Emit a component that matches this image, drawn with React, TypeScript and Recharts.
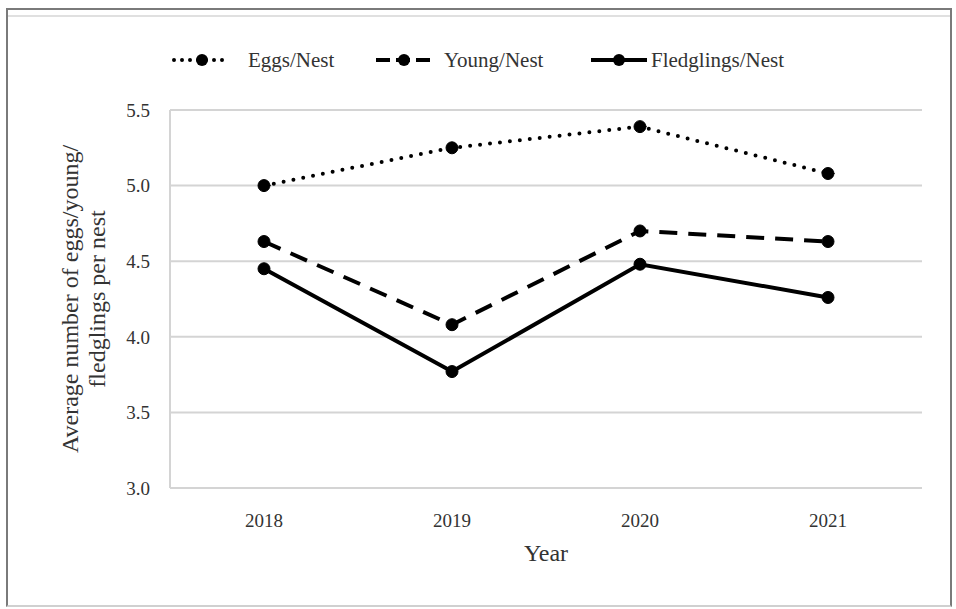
import React, {useEffect} from "react";
import {LineChart, Line, XAxis, YAxis, CartesianGrid} from "recharts";

const years = ["2018", "2019", "2020", "2021"];
const eggsPerNest = [5.0, 5.25, 5.39, 5.08];
const youngPerNest = [4.63, 4.08, 4.7, 4.63];
const fledglingsPerNest = [4.45, 3.77, 4.48, 4.26];
const yTicks = [3.0, 3.5, 4.0, 4.5, 5.0, 5.5];

const FONT = "'Liberation Serif', 'Times New Roman', serif";
const TEXT = "#333";

const data = years.map((y, i) => ({
    year: y,
    eggs: eggsPerNest[i],
    young: youngPerNest[i],
    fledglings: fledglingsPerNest[i],
}));

const series = [
    {key: "eggs", name: "Eggs/Nest", dash: "0 10", cap: "round" as const, iconDash: "0 8", left: 171, gap: 15},
    {key: "young", name: "Young/Nest", dash: "18 11", cap: "butt" as const, iconDash: "14 6", left: 373, gap: 9},
    {key: "fledglings", name: "Fledglings/Nest", dash: undefined, cap: "butt" as const, iconDash: undefined, left: 588, gap: 1},
];

const LegendIcon = ({dash, cap}: any) => (
    <svg width={62} height={16} style={{display: "block"}}>
        <line x1={3} y1={8} x2={59} y2={8} stroke="#000" strokeWidth={4}
              strokeDasharray={dash} strokeLinecap={cap}/>
        <circle cx={31} cy={8} r={6} fill="#000"/>
    </svg>
);

const CustomLegend = () => (
    <>
        {series.map((s) => (
            <div key={s.key} style={{
                position: "absolute", left: s.left, top: 47, height: 26, display: "flex", alignItems: "center",
                fontFamily: FONT, fontSize: 21, color: TEXT, whiteSpace: "nowrap"
            }}>
                <LegendIcon dash={s.iconDash} cap={s.cap}/>
                <span style={{marginLeft: s.gap}}>{s.name}</span>
            </div>
        ))}
    </>
);

const YLabel = () => (
    <text x={0} y={0} transform="translate(83,299) rotate(-90)" textAnchor="middle"
          fontFamily={FONT} fontSize={24} fill={TEXT}>
        <tspan x={0} dy={-5}>Average number of eggs/young/</tspan>
        <tspan x={0} dy={27}>fledglings per nest</tspan>
    </text>
);

const App = () => {
    useEffect(() => {
        document.body.style.margin = "0";
    }, []);
    return (
        <div style={{position: "relative", width: 956, height: 609, background: "#fff"}}>
            <div style={{
                position: "absolute", left: 6, top: 8, width: 942, height: 595,
                borderTop: "2px solid #7a7a7a", borderLeft: "2px solid #7a7a7a",
                borderRight: "2px solid #7a7a7a", borderBottom: "2px solid #d0d0d0"
            }}/>
            <div style={{position: "absolute", left: 8, top: 15, width: 942, height: 2, background: "#e0e0e0"}}/>
            <div style={{position: "absolute", left: 0, top: 0}}>
                <LineChart width={956} height={609} data={data}
                           margin={{top: 110, right: 34, bottom: 0, left: 0}}>
                    <CartesianGrid vertical={false} stroke="#d4d4d4" strokeWidth={2}/>
                    <XAxis dataKey="year" height={121} tickSize={0} tickMargin={26}
                           padding={{left: 94, right: 94}}
                           axisLine={{stroke: "#d4d4d4", strokeWidth: 2}}
                           tick={{fontFamily: FONT, fontSize: 19, fill: TEXT}}
                           label={{value: "Year", position: "insideTop", offset: 56, fontFamily: FONT, fontSize: 24, fill: TEXT}}/>
                    <YAxis width={170} domain={[3, 5.5]} ticks={yTicks} tickSize={0} tickMargin={20}
                           tickFormatter={(v: number) => v.toFixed(1)}
                           axisLine={{stroke: "#d4d4d4", strokeWidth: 2}}
                           tick={{fontFamily: FONT, fontSize: 19, fill: TEXT}}
                           label={{content: () => <YLabel/>}}/>
                    <YAxis yAxisId="right" orientation="right" width={0} domain={[3, 5.5]} tick={false}
                           axisLine={{stroke: "#d4d4d4", strokeWidth: 2}}/>
                    {series.map((s) => (
                        <Line key={s.key} type="linear" dataKey={s.key} name={s.name}
                              stroke="#000" strokeWidth={4} strokeDasharray={s.dash} strokeLinecap={s.cap}
                              dot={{r: 6, fill: "#000", stroke: "#000", strokeWidth: 1, strokeDasharray: ""}}
                              activeDot={false} isAnimationActive={false}/>
                    ))}
                </LineChart>
            </div>
            <CustomLegend/>
        </div>
    );
};

export default App;
